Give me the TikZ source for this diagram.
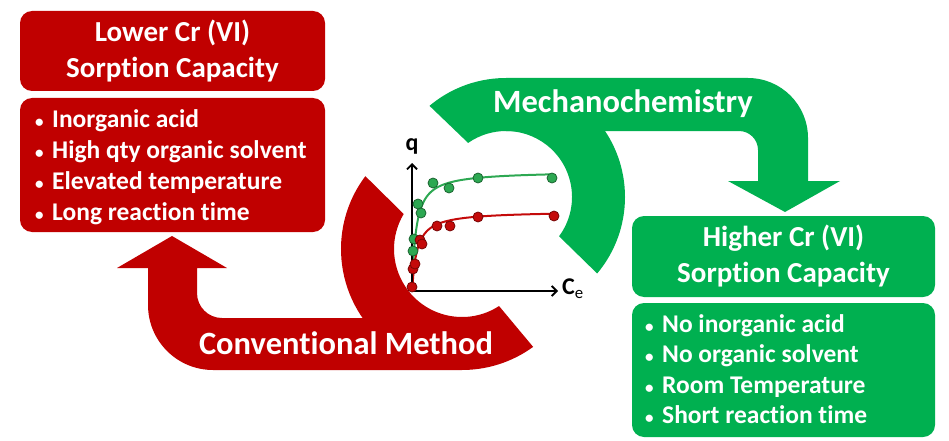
\documentclass[tikz,border=0pt]{standalone}
\usepackage{fontspec}
\setmainfont{Carlito}[Ligatures=NoCommon]
\usepackage{tikz}
\usetikzlibrary{positioning,calc,arrows.meta}
\definecolor{CrRed}{HTML}{C00000}
\definecolor{CrGreen}{HTML}{00B050}
\definecolor{PtGreen}{HTML}{2DA852}
\definecolor{PtRed}{HTML}{C40A0A}
\newcommand{\blt}{\makebox[17pt][l]{\fontsize{17}{17}\selectfont\textbullet}}

\begin{document}
\begin{tikzpicture}[x=1pt, y=-1pt, font=\bfseries,
    titlebox/.style={rounded corners=12pt, text=white, align=center,
      inner sep=0pt, font=\fontsize{29}{36}\selectfont\bfseries},
    listbox/.style={rounded corners=12pt, inner sep=0pt},
    item/.style={text=white, anchor=base west, inner sep=0pt,
      font=\fontsize{25.5}{30}\selectfont\bfseries},
    arrowlabel/.style={text=white, anchor=base, inner sep=0pt,
      font=\fontsize{32.5}{33}\selectfont\bfseries},
    gpt/.style={circle, fill=PtGreen, draw=PtGreen!60!black, line width=0.8pt,
      minimum size=10pt, inner sep=0pt},
    rpt/.style={circle, fill=PtRed, draw=PtRed!60!black, line width=0.8pt,
      minimum size=10pt, inner sep=0pt}]
  \useasboundingbox (0,0) rectangle (949,441);
  \coordinate (rc) at (462,249);
  \coordinate (gc) at (506,197);

  % conventional method arrow
  \fill[CrRed] ($(rc)+(-143:121)$) arc[start angle=-143, end angle=-306, radius=121]
    -- ($(rc)+(-303:68)$) arc[start angle=-303, end angle=-149, radius=68] -- cycle;
  \fill[CrRed] (462,370) -- (213,370) arc[start angle=90, end angle=180, radius=65]
    -- (148,268) -- (117,268) -- (172,236) -- (227,268) -- (197,268) -- (197,293)
    arc[start angle=180, end angle=90, radius=25] -- (462,318) -- cycle;

  % mechanochemistry arrow
  \fill[CrGreen] ($(gc)+(-130:119)$) arc[start angle=-130, end angle=40, radius=119]
    -- ($(gc)+(36.5:66)$) arc[start angle=36.5, end angle=-125, radius=66] -- cycle;
  \fill[CrGreen] (506,78) -- (748,78) arc[start angle=-90, end angle=0, radius=60]
    -- (808,181) -- (840,181) -- (785,212) -- (728,181) -- (758,181) -- (758,150)
    arc[start angle=0, end angle=-90, radius=19] -- (506,131) -- cycle;

  \node[arrowlabel] (conv) at (346,354) {Conventional Method};
  \node[arrowlabel] (mech) at (623,113) {Mechanochemistry};

  % boxes
  \node[titlebox, fill=CrRed, minimum width=305pt, minimum height=80pt] (lowtitle) at (172.5,51)
    {Lower Cr (VI)\\Sorption Capacity};
  \node[listbox, fill=CrRed, minimum width=305pt, minimum height=134pt] (lowlist) at (172.5,165) {};
  \foreach \t [count=\i] in {Inorganic acid, High qty organic solvent,
      Elevated temperature, Long reaction time}
    \node[item] (lowitem\i) at (35,{127+31.2*(\i-1)}) {\blt\t};
  \node[titlebox, fill=CrGreen, minimum width=303pt, minimum height=81pt] (hightitle) at (783.5,256.5)
    {Higher Cr (VI)\\Sorption Capacity};
  \node[listbox, fill=CrGreen, minimum width=303pt, minimum height=134pt] (highlist) at (783.5,370) {};
  \foreach \t [count=\i] in {No inorganic acid, No organic solvent,
      Room Temperature, Short reaction time}
    \node[item] (highitem\i) at (645,{332+30.5*(\i-1)}) {\blt\t};

  % isotherm plot
  \coordinate (O) at (412,291);
  \coordinate (ytop) at (412,163);
  \coordinate (xend) at (558,291);
  \draw[PtGreen, line width=2pt] plot[domain=0:140, samples=80, smooth]
    ({412+\x}, {291-120*(\x/(4+\x))});
  \draw[PtRed, line width=2pt] plot[domain=0:142, samples=80, smooth]
    ({412+\x}, {291-80*(\x/(5+\x))});
  \draw[line width=1.8pt, -{Straight Barb[length=5pt, width=10pt]}] (O) -- (ytop);
  \draw[line width=1.8pt, -{Straight Barb[length=5pt, width=10pt]}] (O) -- (xend);
  \node[font=\fontsize{24}{24}\selectfont\bfseries] (qlab) at (412,146) {q};
  \node[font=\fontsize{24}{24}\selectfont\bfseries, anchor=west, inner sep=0pt] (celab) at (562,289)
    {C\textsubscript{\normalfont e}};
  \foreach \px/\py [count=\i] in {413/251, 414/239, 418/204, 421/213, 433/183,
      449/188, 478/178, 552/178}
    \node[gpt] (gp\i) at (\px,\py) {};
  \foreach \px/\py [count=\i] in {412/287, 413/269, 415/264, 420/240, 422/244,
      437/226, 450/226, 478/217, 554/216}
    \node[rpt] (rp\i) at (\px,\py) {};
\end{tikzpicture}
\end{document}
